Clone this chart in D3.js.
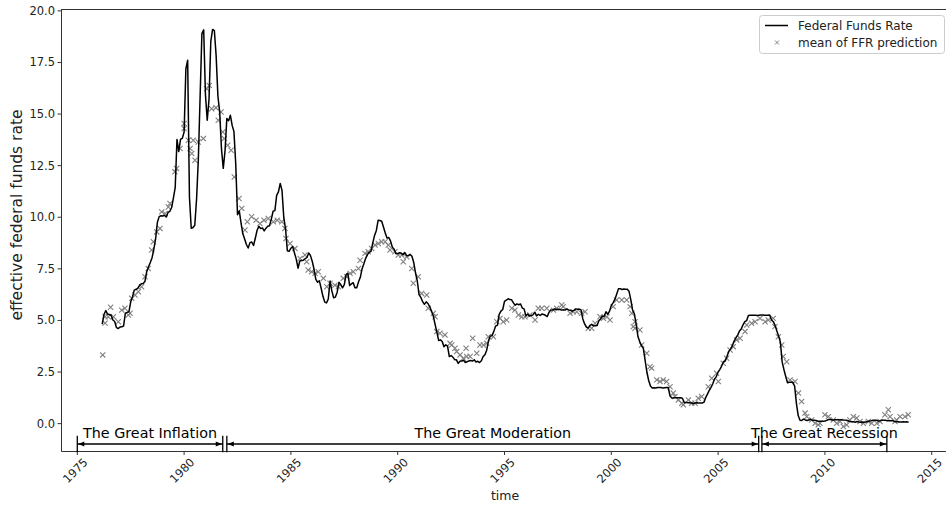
<!DOCTYPE html>
<html>
<head>
<meta charset="utf-8">
<script src="https://cdnjs.cloudflare.com/ajax/libs/d3/7.8.5/d3.min.js"></script>
<style>
  body { margin: 0; background: #fff; }
  svg { display: block; font-family: "DejaVu Sans", sans-serif; }
</style>
</head>
<body>
<div class="plot"></div>
<script>
// monthly effective federal funds rate, first value plotted at ffrStart
var ffrStart = 1976 + 2 / 12;
var ffr = [
  4.82, 5.29, 5.48, 5.31, 5.29, 5.25, 5.02, 4.95, 4.65,
  4.61, 4.68, 4.69, 4.73, 5.35, 5.39, 5.42, 5.90, 6.14, 6.47, 6.51, 6.56,
  6.70, 6.78, 6.79, 6.89, 7.36, 7.60, 7.81, 8.04, 8.45, 8.96, 9.76, 10.03,
  10.07, 10.06, 10.09, 10.01, 10.24, 10.29, 10.47, 10.94, 11.43, 13.77, 13.18, 13.78,
  13.82, 14.13, 17.19, 17.61, 10.98, 9.47, 9.50, 9.61, 10.87, 12.81, 15.85, 18.90,
  19.08, 15.93, 14.70, 15.72, 18.52, 19.10, 19.04, 17.82, 15.87, 15.08, 13.31, 12.37,
  13.22, 14.78, 14.68, 14.94, 14.45, 14.15, 12.59, 10.12, 10.31, 9.71, 9.20, 8.95,
  8.68, 8.51, 8.77, 8.80, 8.63, 8.98, 9.37, 9.56, 9.45, 9.48, 9.34, 9.47,
  9.56, 9.59, 9.91, 10.29, 10.32, 11.06, 11.23, 11.64, 11.30, 9.99, 9.43, 8.38,
  8.35, 8.50, 8.58, 8.27, 7.97, 7.53, 7.88, 7.90, 7.92, 7.99, 8.05, 8.27,
  8.14, 7.86, 7.48, 6.99, 6.85, 6.92, 6.56, 6.17, 5.89, 5.85, 6.04, 6.91,
  6.43, 6.10, 6.13, 6.37, 6.85, 6.73, 6.58, 6.73, 7.22, 7.29, 6.69, 6.77,
  6.83, 6.58, 6.58, 6.87, 7.09, 7.51, 7.75, 8.01, 8.19, 8.30, 8.35, 8.76,
  9.12, 9.36, 9.85, 9.84, 9.81, 9.53, 9.24, 8.99, 9.02, 8.84, 8.55, 8.45,
  8.23, 8.24, 8.28, 8.26, 8.18, 8.29, 8.15, 8.13, 8.20, 8.11, 7.81, 7.31,
  6.91, 6.25, 6.12, 5.91, 5.78, 5.90, 5.82, 5.66, 5.45, 5.21, 4.81, 4.43,
  4.03, 4.06, 3.98, 3.73, 3.82, 3.76, 3.25, 3.30, 3.22, 3.10, 3.09, 2.92,
  3.02, 3.03, 3.07, 2.96, 3.00, 3.04, 3.06, 3.03, 3.09, 2.99, 3.02, 2.96,
  3.05, 3.25, 3.34, 3.56, 4.01, 4.25, 4.26, 4.47, 4.73, 4.76, 5.29, 5.45,
  5.53, 5.92, 5.98, 6.05, 6.01, 6.00, 5.85, 5.74, 5.80, 5.76, 5.80, 5.60,
  5.56, 5.22, 5.31, 5.22, 5.24, 5.27, 5.40, 5.22, 5.30, 5.24, 5.31, 5.29,
  5.25, 5.19, 5.39, 5.51, 5.50, 5.56, 5.52, 5.54, 5.54, 5.50, 5.52, 5.50,
  5.56, 5.51, 5.49, 5.45, 5.49, 5.56, 5.54, 5.55, 5.51, 5.07, 4.83, 4.68,
  4.63, 4.76, 4.81, 4.74, 4.74, 4.76, 4.99, 5.07, 5.22, 5.20, 5.42, 5.30,
  5.45, 5.73, 5.85, 6.02, 6.27, 6.53, 6.54, 6.50, 6.52, 6.51, 6.51, 6.40,
  5.98, 5.49, 5.31, 4.80, 4.21, 3.97, 3.77, 3.65, 3.07, 2.49, 2.09, 1.82,
  1.73, 1.74, 1.73, 1.75, 1.75, 1.75, 1.73, 1.74, 1.75, 1.75, 1.34, 1.24,
  1.24, 1.26, 1.25, 1.26, 1.26, 1.22, 1.01, 1.03, 1.01, 1.01, 1.00, 0.98,
  1.00, 1.01, 1.00, 1.00, 1.00, 1.03, 1.26, 1.43, 1.61, 1.76, 1.93, 2.16,
  2.28, 2.50, 2.63, 2.79, 3.00, 3.04, 3.26, 3.50, 3.62, 3.78, 4.00, 4.16,
  4.29, 4.49, 4.59, 4.79, 4.94, 4.99, 5.24, 5.25, 5.25, 5.25, 5.25, 5.24,
  5.25, 5.26, 5.26, 5.25, 5.25, 5.25, 5.26, 5.02, 4.94, 4.76, 4.49, 4.24,
  3.94, 2.98, 2.61, 2.28, 1.98, 2.00, 2.01, 2.00, 1.81, 0.97, 0.39, 0.16,
  0.15, 0.22, 0.18, 0.15, 0.18, 0.21, 0.16, 0.16, 0.15, 0.12, 0.12, 0.12,
  0.11, 0.13, 0.16, 0.20, 0.20, 0.18, 0.18, 0.19, 0.19, 0.19, 0.19, 0.18,
  0.17, 0.16, 0.14, 0.10, 0.09, 0.09, 0.07, 0.10, 0.08, 0.07, 0.08, 0.07,
  0.08, 0.10, 0.13, 0.14, 0.16, 0.16, 0.16, 0.13, 0.14, 0.16, 0.16, 0.16,
  0.14, 0.15, 0.14, 0.15, 0.11, 0.09, 0.09, 0.08, 0.08, 0.09, 0.08, 0.09,
  0.07
];

// mean of FFR prediction
var predTime = [
  1976.19, 1976.30, 1976.30, 1976.45, 1976.56, 1976.69, 1976.92, 1977.08, 1977.23, 1977.39,
  1977.47, 1977.55, 1977.70, 1977.86, 1978.01, 1978.17, 1978.32, 1978.48, 1978.56, 1978.72,
  1978.87, 1978.95, 1979.11, 1979.26, 1979.34, 1979.57, 1979.65, 1979.81, 1980.00, 1980.00,
  1980.20, 1980.28, 1980.36, 1980.43, 1980.51, 1980.66, 1980.90, 1981.06, 1981.18, 1981.29,
  1981.49, 1981.60, 1981.73, 1981.81, 1981.88, 1982.04, 1982.20, 1982.35, 1982.57, 1982.70,
  1982.85, 1982.96, 1983.16, 1983.37, 1983.55, 1983.74, 1983.94, 1984.18, 1984.36, 1984.57,
  1984.72, 1984.77, 1984.96, 1985.19, 1985.43, 1985.66, 1985.74, 1985.81, 1985.97, 1986.13,
  1986.28, 1986.52, 1986.68, 1986.83, 1987.06, 1987.22, 1987.45, 1987.61, 1987.77, 1987.92,
  1988.16, 1988.24, 1988.47, 1988.62, 1988.78, 1988.94, 1989.09, 1989.25, 1989.41, 1989.56,
  1989.64, 1989.87, 1990.03, 1990.19, 1990.26, 1990.42, 1990.66, 1990.73, 1990.96, 1991.12,
  1991.36, 1991.43, 1991.67, 1991.75, 1991.83, 1991.98, 1992.21, 1992.45, 1992.53, 1992.68,
  1992.76, 1992.92, 1993.07, 1993.23, 1993.20, 1993.39, 1993.51, 1993.70, 1993.85, 1994.01,
  1994.17, 1994.24, 1994.48, 1994.64, 1994.79, 1994.94, 1995.10, 1995.34, 1995.49, 1995.65,
  1995.81, 1995.96, 1996.19, 1996.43, 1996.58, 1996.74, 1996.98, 1997.29, 1997.44, 1997.68,
  1997.75, 1998.07, 1998.22, 1998.38, 1998.61, 1998.77, 1998.92, 1999.08, 1999.24, 1999.47,
  1999.63, 1999.79, 1999.94, 2000.09, 2000.25, 2000.49, 2000.72, 2000.88, 2000.96, 2001.03,
  2001.11, 2001.11, 2001.34, 2001.42, 2001.66, 2001.81, 2001.89, 2002.13, 2002.28, 2002.43,
  2002.59, 2002.75, 2002.90, 2002.98, 2003.14, 2003.30, 2003.37, 2003.61, 2003.76, 2003.92,
  2004.07, 2004.23, 2004.54, 2004.70, 2004.93, 2005.01, 2005.24, 2005.40, 2005.56, 2005.71,
  2005.87, 2006.03, 2006.26, 2006.34, 2006.57, 2006.73, 2006.96, 2007.20, 2007.35, 2007.58,
  2007.66, 2007.82, 2007.98, 2008.05, 2008.21, 2008.37, 2008.60, 2008.76, 2008.91, 2009.07,
  2009.15, 2009.38, 2009.54, 2009.69, 2009.77, 2010.00, 2010.16, 2010.39, 2010.55, 2010.71,
  2010.86, 2011.02, 2011.17, 2011.33, 2011.49, 2011.64, 2011.80, 2012.03, 2012.19, 2012.43,
  2012.58, 2012.81, 2012.97, 2013.05, 2013.28, 2013.36, 2013.52, 2013.75, 2013.90
];
var predValue = [
  3.33, 4.87, 5.18, 5.18, 5.64, 5.18, 4.94, 5.50, 5.59, 5.26,
  5.35, 6.07, 6.23, 6.39, 6.63, 7.12, 7.52, 8.41, 8.81, 9.29,
  9.46, 10.26, 10.18, 10.50, 10.67, 12.20, 12.36, 13.33, 14.54, 14.30,
  13.73, 13.33, 13.09, 13.73, 12.76, 13.65, 13.81, 16.23, 16.39, 15.26,
  15.31, 14.70, 15.10, 14.13, 13.81, 13.49, 13.25, 11.95, 10.91, 10.43,
  9.38, 9.78, 10.02, 9.86, 9.70, 9.86, 9.94, 9.78, 9.86, 9.78,
  9.46, 8.97, 8.73, 8.49, 8.00, 8.17, 7.84, 7.44, 7.36, 7.28,
  7.36, 7.04, 6.63, 6.80, 6.71, 6.63, 7.04, 7.12, 7.28, 7.36,
  7.52, 7.92, 8.25, 8.33, 8.49, 8.65, 8.73, 8.81, 8.81, 8.65,
  8.41, 8.33, 8.17, 8.17, 7.84, 8.08, 7.52, 6.80, 7.12, 6.31,
  6.23, 5.59, 5.35, 5.18, 4.46, 4.38, 4.30, 3.89, 3.81, 3.65,
  3.49, 3.33, 3.17, 3.25, 3.65, 3.25, 4.14, 3.41, 3.81, 3.81,
  3.89, 4.21, 4.21, 4.94, 5.10, 4.94, 5.02, 5.59, 5.50, 5.26,
  5.18, 5.18, 5.26, 5.02, 5.59, 5.59, 5.59, 5.50, 5.59, 5.75,
  5.67, 5.35, 5.42, 5.42, 5.35, 5.42, 4.62, 4.62, 4.86, 5.18,
  5.10, 5.18, 5.02, 5.67, 5.99, 5.99, 5.99, 5.67, 5.35, 4.70,
  4.62, 4.94, 4.54, 3.81, 3.41, 2.76, 2.69, 2.12, 2.04, 2.12,
  2.04, 1.79, 1.48, 1.31, 1.15, 0.99, 0.91, 1.15, 0.99, 0.99,
  1.23, 1.31, 1.79, 2.20, 2.44, 2.04, 2.93, 3.17, 3.57, 3.73,
  4.05, 4.14, 4.46, 4.78, 4.86, 4.94, 5.10, 4.94, 5.02, 5.10,
  4.70, 4.21, 3.81, 3.25, 3.00, 2.12, 2.04, 1.48, 1.07, 0.51,
  0.34, 0.18, 0.02, -0.06, 0.02, 0.43, 0.34, 0.18, 0.02, 0.10,
  -0.14, -0.06, 0.18, 0.34, 0.27, 0.10, 0.02, 0.10, 0.02, 0.02,
  0.10, 0.43, 0.67, 0.34, 0.10, 0.18, 0.34, 0.34, 0.43
];

var yTicks = [0, 2.5, 5, 7.5, 10, 12.5, 15, 17.5, 20];
var xTicks = [1975, 1980, 1985, 1990, 1995, 2000, 2005, 2010, 2015];

// annotated periods
var periodNames = ['The Great Inflation', 'The Great Moderation', 'The Great Recession'];
var periodStart = [1975.0, 1982.0, 2007.05];
var periodEnd = [1981.81, 2006.9, 2012.9];

var W = 946, H = 505;
var m = {t: 9, l: 61, b: 451.5};

var x = d3.scaleLinear().domain([1974.237, 2015.8]).range([m.l, 948.8]);
var y = d3.scaleLinear().domain([-1.35, 20.09]).range([m.b, m.t]);

var svg = d3.select('.plot').append('svg')
    .attr('width', W)
    .attr('height', H);

var line = ffr.map(function(v, i){ return [ffrStart + i / 12, v]; });
var preds = predTime.map(function(t, i){ return [t, predValue[i]]; });

// crosses first, line on top
var cr = 2.6;
svg.append('g')
    .selectAll('path')
    .data(preds)
    .enter()
    .append('path')
    .attr('d', function(d){
        var px = x(d[0]), py = y(d[1]);
        return 'M' + (px - cr) + ',' + (py - cr) + 'L' + (px + cr) + ',' + (py + cr) +
               'M' + (px - cr) + ',' + (py + cr) + 'L' + (px + cr) + ',' + (py - cr);
    })
    .attr('stroke', '#808080')
    .attr('stroke-width', 1.1)
    .attr('fill', 'none');

svg.append('path')
    .datum(line)
    .attr('d', d3.line().x(function(d){ return x(d[0]); }).y(function(d){ return y(d[1]); }))
    .attr('fill', 'none')
    .attr('stroke', '#000')
    .attr('stroke-width', 1.5)
    .attr('stroke-linejoin', 'round');

// spines
svg.append('line').attr('x1', m.l + 0.5).attr('x2', W).attr('y1', m.b).attr('y2', m.b)
    .attr('stroke', '#333').attr('stroke-width', 1);
svg.append('line').attr('x1', m.l + 0.5).attr('x2', W).attr('y1', m.t + 0.5).attr('y2', m.t + 0.5)
    .attr('stroke', '#333').attr('stroke-width', 1);
svg.append('line').attr('x1', m.l + 0.5).attr('x2', m.l + 0.5).attr('y1', m.t).attr('y2', m.b)
    .attr('stroke', '#333').attr('stroke-width', 1);

// y ticks
var yt = svg.append('g').selectAll('g').data(yTicks).enter().append('g');
yt.append('line')
    .attr('x1', m.l - 3.5).attr('x2', m.l)
    .attr('y1', function(d){ return y(d); }).attr('y2', function(d){ return y(d); })
    .attr('stroke', '#333');
yt.append('text')
    .attr('x', m.l - 6)
    .attr('y', function(d){ return y(d); })
    .attr('dy', '0.35em')
    .attr('text-anchor', 'end')
    .attr('font-size', 11.5)
    .attr('fill', '#222')
    .text(function(d){ return d3.format('.1f')(d); });

// x ticks
var xt = svg.append('g').selectAll('g').data(xTicks).enter().append('g');
xt.append('line')
    .attr('x1', function(d){ return x(d); }).attr('x2', function(d){ return x(d); })
    .attr('y1', m.b).attr('y2', m.b + 3.5)
    .attr('stroke', '#333');
xt.append('text')
    .attr('transform', function(d){ return 'translate(' + (x(d) - 2) + ',' + 470.5 + ') rotate(-45)'; })
    .attr('text-anchor', 'middle')
    .attr('dy', '0.35em')
    .attr('font-size', 11.5)
    .attr('fill', '#222')
    .text(function(d){ return d; });

// axis labels
svg.append('text')
    .attr('x', 505).attr('y', 500)
    .attr('text-anchor', 'middle')
    .attr('font-size', 12.5)
    .attr('fill', '#222')
    .text('time');
svg.append('text')
    .attr('transform', 'translate(17,' + 215 + ') rotate(-90)')
    .attr('text-anchor', 'middle')
    .attr('dy', '0.35em')
    .attr('font-size', 15.5)
    .attr('fill', '#222')
    .text('effective federal funds rate');

// period annotations
var ay = 444, barH = 8.3, ah = 6, aw = 2.6;
var per = svg.append('g').selectAll('g').data(periodNames).enter().append('g');
per.append('line')
    .attr('x1', function(d, i){ return x(periodStart[i]); })
    .attr('x2', function(d, i){ return x(periodEnd[i]); })
    .attr('y1', ay).attr('y2', ay)
    .attr('stroke', '#000').attr('stroke-width', 1.3);
per.append('line')
    .attr('x1', function(d, i){ return x(periodStart[i]); })
    .attr('x2', function(d, i){ return x(periodStart[i]); })
    .attr('y1', ay - barH).attr('y2', ay + barH)
    .attr('stroke', '#000').attr('stroke-width', 1.3);
per.append('line')
    .attr('x1', function(d, i){ return x(periodEnd[i]); })
    .attr('x2', function(d, i){ return x(periodEnd[i]); })
    .attr('y1', ay - barH).attr('y2', ay + barH)
    .attr('stroke', '#000').attr('stroke-width', 1.3);
per.append('path')
    .attr('d', function(d, i){
        var a = x(periodStart[i]) + 1, b = x(periodEnd[i]) - 1;
        return 'M' + a + ',' + ay + 'L' + (a + ah) + ',' + (ay - aw) + 'L' + (a + ah) + ',' + (ay + aw) + 'Z' +
               'M' + b + ',' + ay + 'L' + (b - ah) + ',' + (ay - aw) + 'L' + (b - ah) + ',' + (ay + aw) + 'Z';
    })
    .attr('fill', '#000');
per.append('text')
    .attr('x', function(d, i){ return (x(periodStart[i]) + x(periodEnd[i])) / 2; })
    .attr('y', 438)
    .attr('text-anchor', 'middle')
    .attr('font-size', 14.3)
    .attr('fill', '#000')
    .text(function(d){ return d; });

// legend
var lg = svg.append('g');
lg.append('rect')
    .attr('x', 759.5).attr('y', 15.5).attr('width', 185).attr('height', 38)
    .attr('rx', 3)
    .attr('fill', '#fff').attr('fill-opacity', 0.8)
    .attr('stroke', '#ccc');
lg.append('line')
    .attr('x1', 765).attr('x2', 788).attr('y1', 25.5).attr('y2', 25.5)
    .attr('stroke', '#000').attr('stroke-width', 1.5);
lg.append('path')
    .attr('d', 'M775,40.5L779,44.5M775,44.5L779,40.5')
    .attr('stroke', '#808080').attr('stroke-width', 1);
lg.append('text')
    .attr('x', 798).attr('y', 25.5).attr('dy', '0.35em')
    .attr('font-size', 12).attr('fill', '#222')
    .text('Federal Funds Rate');
lg.append('text')
    .attr('x', 798).attr('y', 42.5).attr('dy', '0.35em')
    .attr('font-size', 12).attr('fill', '#222')
    .text('mean of FFR prediction');
</script>
</body>
</html>
